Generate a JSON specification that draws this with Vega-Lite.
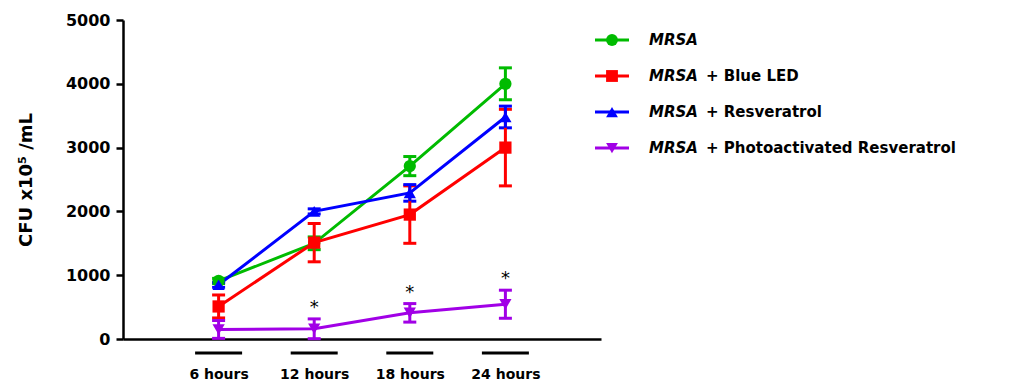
{
  "$schema": "https://vega.github.io/schema/vega-lite/v6.json",
  "background": "white",
  "padding": {"left": 17, "top": 12, "right": 0, "bottom": 0},
  "spacing": 0,
  "bounds": "flush",
  "datasets": {
    "growth": [
      {"series": "MRSA", "hour": 6, "mean": 910, "lo": 870, "hi": 950, "sig": false},
      {"series": "MRSA", "hour": 12, "mean": 1500, "lo": 1400, "hi": 1600, "sig": false},
      {"series": "MRSA", "hour": 18, "mean": 2710, "lo": 2560, "hi": 2860, "sig": false},
      {"series": "MRSA", "hour": 24, "mean": 4000, "lo": 3750, "hi": 4250, "sig": false},
      {"series": "MRSA + Blue LED", "hour": 6, "mean": 510, "lo": 330, "hi": 690, "sig": false},
      {"series": "MRSA + Blue LED", "hour": 12, "mean": 1510, "lo": 1210, "hi": 1810, "sig": false},
      {"series": "MRSA + Blue LED", "hour": 18, "mean": 1950, "lo": 1500, "hi": 2400, "sig": false},
      {"series": "MRSA + Blue LED", "hour": 24, "mean": 3000, "lo": 2400, "hi": 3600, "sig": false},
      {"series": "MRSA + Resveratrol", "hour": 6, "mean": 850, "lo": 810, "hi": 890, "sig": false},
      {"series": "MRSA + Resveratrol", "hour": 12, "mean": 2000, "lo": 1960, "hi": 2040, "sig": false},
      {"series": "MRSA + Resveratrol", "hour": 18, "mean": 2290, "lo": 2160, "hi": 2420, "sig": false},
      {"series": "MRSA + Resveratrol", "hour": 24, "mean": 3480, "lo": 3310, "hi": 3650, "sig": false},
      {"series": "MRSA + Photoactivated Resveratrol", "hour": 6, "mean": 150, "lo": 10, "hi": 290, "sig": false},
      {"series": "MRSA + Photoactivated Resveratrol", "hour": 12, "mean": 160, "lo": 5, "hi": 315, "sig": true},
      {"series": "MRSA + Photoactivated Resveratrol", "hour": 18, "mean": 410, "lo": 265, "hi": 555, "sig": true},
      {"series": "MRSA + Photoactivated Resveratrol", "hour": 24, "mean": 545, "lo": 325, "hi": 765, "sig": true}
    ],
    "key": [
      {"series": "MRSA", "suffix": ""},
      {"series": "MRSA + Blue LED", "suffix": "+ Blue LED"},
      {"series": "MRSA + Resveratrol", "suffix": "+ Resveratrol"},
      {"series": "MRSA + Photoactivated Resveratrol", "suffix": "+ Photoactivated Resveratrol"}
    ]
  },
  "hconcat": [
    {
      "width": 478,
      "height": 319,
      "data": {"name": "growth"},
      "encoding": {
        "x": {
          "field": "hour",
          "type": "quantitative",
          "scale": {"domain": [0, 30], "nice": false},
          "axis": {
            "values": [6, 12, 18, 24],
            "labelExpr": "datum.value + ' hours'",
            "title": null,
            "grid": false,
            "ticks": false,
            "domainColor": "#000000",
            "domainWidth": 2.5,
            "labelPadding": 28,
            "labelFontSize": 14,
            "labelFontWeight": "bold",
            "labelColor": "#000000",
            "labelFont": "DejaVu Sans"
          }
        },
        "color": {
          "field": "series",
          "type": "nominal",
          "scale": {
            "domain": ["MRSA", "MRSA + Blue LED", "MRSA + Resveratrol", "MRSA + Photoactivated Resveratrol"],
            "range": ["#00BB00", "#FF0000", "#0000FF", "#A100E6"]
          },
          "legend": null
        }
      },
      "layer": [
        {
          "mark": {"type": "errorbar", "ticks": {"opacity": 1}, "rule": {"opacity": 1}, "opacity": 1, "thickness": 3, "size": 13},
          "encoding": {
            "y": {
              "field": "lo",
              "type": "quantitative",
              "title": "CFU  x10⁵ /mL",
              "scale": {"domain": [0, 5000], "nice": false},
              "axis": {
                "values": [0, 1000, 2000, 3000, 4000, 5000],
                "format": "d",
                "grid": false,
                "domainColor": "#000000",
                "domainWidth": 2.5,
                "tickColor": "#000000",
                "tickWidth": 2.5,
                "tickSize": 7,
                "labelPadding": 6,
                "labelFontSize": 16,
                "labelFontWeight": "bold",
                "labelColor": "#000000",
                "labelFont": "DejaVu Sans",
                "titleFont": "DejaVu Sans",
                "titleFontSize": 18,
                "titleFontWeight": "bold",
                "titleColor": "#000000",
                "titlePadding": 30
              }
            },
            "y2": {"field": "hi"}
          }
        },
        {
          "mark": {"type": "line", "strokeWidth": 3},
          "encoding": {
            "y": {"field": "mean", "type": "quantitative", "title": "CFU  x10⁵ /mL"}
          }
        },
        {
          "mark": {"type": "point", "filled": true, "opacity": 1, "size": 150},
          "encoding": {
            "y": {"field": "mean", "type": "quantitative", "title": "CFU  x10⁵ /mL"},
            "shape": {
              "field": "series",
              "type": "nominal",
              "scale": {
                "domain": ["MRSA", "MRSA + Blue LED", "MRSA + Resveratrol", "MRSA + Photoactivated Resveratrol"],
                "range": ["circle", "square", "triangle-up", "triangle-down"]
              },
              "legend": null
            }
          }
        },
        {
          "transform": [{"filter": "datum.sig"}],
          "mark": {"type": "text", "text": "*", "fontSize": 18, "font": "DejaVu Sans", "baseline": "alphabetic", "dy": -6},
          "encoding": {
            "y": {"field": "hi", "type": "quantitative", "title": "CFU  x10⁵ /mL"},
            "color": {"value": "#000000"}
          }
        },
        {
          "transform": [{"filter": "datum.series === 'MRSA'"}],
          "mark": {"type": "tick", "orient": "horizontal", "size": 47, "thickness": 3, "opacity": 1},
          "encoding": {
            "y": {"datum": -220, "type": "quantitative", "title": "CFU  x10⁵ /mL"},
            "color": {"value": "#000000"}
          }
        }
      ]
    },
    {
      "width": 409,
      "height": 148,
      "data": {"name": "key"},
      "encoding": {
        "y": {
          "field": "series",
          "type": "nominal",
          "sort": null,
          "scale": {
            "type": "point",
            "domain": ["MRSA", "MRSA + Blue LED", "MRSA + Resveratrol", "MRSA + Photoactivated Resveratrol"],
            "padding": 0.555
          },
          "axis": null
        },
        "color": {"field": "series", "type": "nominal", "legend": null}
      },
      "layer": [
        {
          "mark": {"type": "rule", "strokeWidth": 3},
          "encoding": {
            "x": {"datum": -6, "type": "quantitative", "scale": {"domain": [0, 409], "nice": false}, "axis": null},
            "x2": {"datum": 28}
          }
        },
        {
          "mark": {"type": "point", "filled": true, "opacity": 1, "size": 140},
          "encoding": {
            "x": {"datum": 11, "type": "quantitative"},
            "shape": {"field": "series", "type": "nominal", "legend": null}
          }
        },
        {
          "mark": {"type": "text", "text": "MRSA", "align": "left", "baseline": "middle", "font": "DejaVu Sans", "fontSize": 15, "fontWeight": "bold", "fontStyle": "italic"},
          "encoding": {
            "x": {"datum": 48, "type": "quantitative"},
            "color": {"value": "#000000"}
          }
        },
        {
          "mark": {"type": "text", "align": "left", "baseline": "middle", "font": "DejaVu Sans", "fontSize": 15, "fontWeight": "bold"},
          "encoding": {
            "x": {"datum": 105, "type": "quantitative"},
            "text": {"field": "suffix"},
            "color": {"value": "#000000"}
          }
        }
      ]
    }
  ],
  "config": {
    "view": {"stroke": null},
    "font": "DejaVu Sans"
  }
}
